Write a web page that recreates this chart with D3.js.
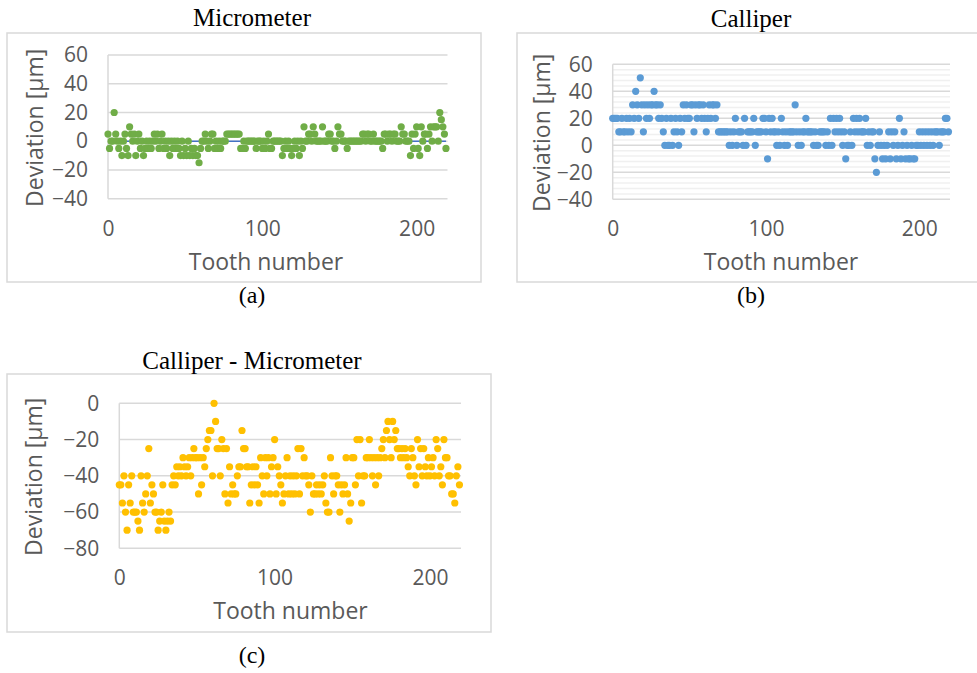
<!DOCTYPE html>
<html>
<head>
<meta charset="utf-8">
<script src="https://cdn.jsdelivr.net/npm/d3@7"></script>
<style>
  body { margin: 0; background: #fff; }
  svg { display: block; }
</style>
</head>
<body>
<div id="chart"></div>
<script>
// tooth numbers 0..219
const teeth = d3.range(220);

const micrometer = [
  5, -5, 0, 0, 20, 5, 0, -5, 0, -10, 0, 5, -5, -10, 10, 5, 0, 5, -10, 0,
  5, -5, 0, -10, -5, 0, -5, 0, -5, 0, 5, 0, 5, -5, 0, 5, -5, 0, -5, 0,
  -10, 0, -5, 0, -5, 0, -5, -10, 0, -10, -5, -10, 0, -10, -5, -10, -5, -10, -10, -15,
  -5, 0, 0, 5, 0, -5, 0, 5, 5, -5, 0, -5, 0, -5, 0, 0, 0, 5, 5, 5,
  5, 5, 5, 5, 5, 5, -5, -5, 0, -5, 0, 0, 0, 0, 0, 0, -5, 0, 0, 0,
  -5, 0, -5, 0, 5, -5, -5, 0, 0, 0, 0, 0, 0, -10, -5, 0, -5, 0, -5, -10,
  -5, 0, -5, 0, -10, 0, -5, 10, 0, 0, 5, 5, 0, 10, 5, 0, 0, 0, 0, 10,
  0, 0, 0, 5, 5, 0, 0, -5, 0, 10, 5, 5, 0, 0, 0, -5, 0, 0, 0, 0,
  0, 0, 0, 0, 0, 5, 5, 0, 5, 5, 0, 0, 5, 0, 0, 0, 0, 0, -5, 5,
  5, 0, 5, 5, 0, 5, 5, 0, 0, 0, 10, 5, 5, 0, 0, 0, -10, 5, -5, 5,
  10, -5, -10, 10, 0, 5, 5, -5, 5, 10, 0, 10, 10, 10, 0, 20, 15, 10, 5, -5
];

const calliper = [
  20, 20, 20, 20, 10, 10, 20, 10, 10, 20, 10, 20, 10, 30, 20, 40, 30, 20, 50, 30,
  10, 30, 20, 30, 20, 30, 30, 40, 30, 30, 20, 30, 20, 10, 0, 20, 0, 0, 20, 0,
  10, 20, 10, 0, 20, 10, 30, 20, 30, 20, 20, 30, 30, 10, 30, 20, 30, 30, 20, 30,
  20, 10, 20, 30, 20, 30, 30, 20, 30, 10, 10, 10, 10, 10, 10, 10, 0, 10, 0, 10,
  20, 0, 10, 10, 10, 0, 20, 0, 10, 10, 10, 10, 20, 0, 10, 10, 10, 10, 20, 20,
  10, -10, 20, 10, 20, 10, 10, 0, 10, 0, 20, 10, 0, 10, 0, 10, 10, 10, 10, 30,
  10, 0, 10, 0, 10, 10, 20, 10, 10, 10, 10, 0, 10, 0, 0, 10, 10, 10, 10, 0,
  10, 0, 20, 0, 20, 10, 20, 10, 20, 10, 0, 10, -10, 0, 0, 10, 0, 20, 10, 20,
  10, 20, 10, 10, 10, 20, 0, 10, 0, 10, 10, -10, -20, 0, 10, 0, -10, 0, -10, 0,
  10, -10, 10, 0, 10, -10, 0, 20, -10, 0, 10, -10, 0, -10, -10, 0, -10, -10, 0, 0,
  10, 0, 10, 0, 10, 0, 10, 0, 10, 0, 10, 10, 10, 0, 10, 10, 10, 20, 20, 10
];

const difference = [
  -45, -45, -55, -40, -60, -70, -45, -55, -40, -60, -60, -60, -65, -70, -40, -55, -60, -50, -40, -25,
  -55, -45, -50, -60, -60, -70, -65, -60, -45, -65, -70, -65, -60, -65, -45, -40, -45, -35, -40, -35,
  -40, -30, -35, -40, -35, -30, -40, -30, -25, -30, -30, -50, -30, -45, -30, -35, -25, -20, -15, -15,
  -40, 0, -10, -25, -25, -40, -20, -25, -50, -25, -55, -35, -50, -45, -50, -50, -40, -35, -35, -15,
  -25, -25, -35, -35, -55, -45, -35, -45, -35, -45, -55, -30, -40, -50, -30, -40, -30, -50, -35, -30,
  -20, -50, -35, -40, -45, -55, -50, -40, -30, -50, -40, -50, -40, -50, -40, -25, -50, -25, -40, -30,
  -40, -40, -45, -60, -40, -50, -50, -45, -50, -45, -50, -45, -40, -55, -60, -60, -30, -40, -50, -40,
  -40, -45, -60, -45, -50, -45, -30, -50, -65, -55, -30, -30, -45, -20, -40, -20, -55, -40, -40, -30,
  -30, -20, -30, -40, -30, -45, -30, -40, -30, -25, -20, -30, -15, -10, -20, -30, -10, -20, -15, -25,
  -25, -30, -25, -30, -25, -30, -35, -40, -25, -30, -40, -45, -20, -35, -25, -40, -25, -35, -40, -30,
  -40, -35, -30, -40, -20, -25, -40, -35, -45, -20, -30, -30, -40, -40, -50, -50, -55, -40, -35, -45
];

const xTicks = [0, 100, 200];
const yTicksAB = [60, 40, 20, 0, -20, -40];
const yTicksC = [0, -20, -40, -60, -80];

const width = 977;
const height = 673;
const gridColor = "#d9d9d9";
const minorColor = "#f0f0f0";
const textColor = "#595959";
const uiFont = "'Open Sans', 'DejaVu Sans', sans-serif";
const serifFont = "'Liberation Serif', 'Times New Roman', serif";

const svg = d3.select("#chart").append("svg").attr("width", width).attr("height", height);

const panels = [
  {
    title: "Micrometer", caption: "(a)", values: micrometer, color: "#70ad47",
    frame: [7, 33, 474, 249], plot: { left: 108, right: 447.5, top: 55, bottom: 198.7 },
    yDomain: [-40, 60], yTicks: yTicksAB, zeroLine: true, minor: false,
    titleX: 252, titleY: 26, captionY: 303, yLabelX: 42.5, xLabelX: 266, xLabelY: 270
  },
  {
    title: "Calliper", caption: "(b)", values: calliper, color: "#5b9bd5",
    frame: [517, 33, 470, 249], plot: { left: 612.7, right: 950, top: 64.3, bottom: 199.3 },
    yDomain: [-40, 60], yTicks: yTicksAB, zeroLine: false, minor: true,
    titleX: 751, titleY: 27, captionY: 303, yLabelX: 550, xLabelX: 781, xLabelY: 270
  },
  {
    title: "Calliper - Micrometer", caption: "(c)", values: difference, color: "#ffc000",
    frame: [7, 374, 484, 258], plot: { left: 119.3, right: 461, top: 403.3, bottom: 548.3 },
    yDomain: [-80, 0], yTicks: yTicksC, zeroLine: false, minor: false,
    titleX: 252, titleY: 369, captionY: 663, yLabelX: 41.5, xLabelX: 290.5, xLabelY: 619
  }
];

panels.forEach((p) => {
  const g = svg.append("g");
  const [fx, fy, fw, fh] = p.frame;
  const pl = p.plot;

  // chart frame
  g.append("rect")
    .attr("x", fx).attr("y", fy).attr("width", fw).attr("height", fh)
    .attr("fill", "#fff").attr("stroke", gridColor).attr("stroke-width", 1.5);

  const x = d3.scaleLinear().domain([0, 220]).range([pl.left, pl.right]);
  const y = d3.scaleLinear().domain(p.yDomain).range([pl.bottom, pl.top]);

  // minor gridlines (calliper chart only)
  if (p.minor) {
    const minorTicks = d3.range(p.yDomain[0], p.yDomain[1] + 1, 4).filter((v) => v % 20 !== 0);
    g.append("g").selectAll("line").data(minorTicks).join("line")
      .attr("x1", pl.left).attr("x2", pl.right)
      .attr("y1", (d) => y(d)).attr("y2", (d) => y(d))
      .attr("stroke", minorColor).attr("stroke-width", 1.5);
  }

  // major gridlines
  g.append("g").selectAll("line").data(p.yTicks).join("line")
    .attr("x1", pl.left).attr("x2", pl.right)
    .attr("y1", (d) => y(d)).attr("y2", (d) => y(d))
    .attr("stroke", gridColor).attr("stroke-width", 1.5);

  // vertical axis line
  g.append("line")
    .attr("x1", pl.left).attr("x2", pl.left)
    .attr("y1", pl.top).attr("y2", pl.bottom)
    .attr("stroke", gridColor).attr("stroke-width", 1.5);

  // y tick labels
  g.append("g")
    .attr("transform", `translate(${pl.left},0)`)
    .call(d3.axisLeft(y).tickValues(p.yTicks).tickSize(0).tickPadding(20))
    .call((a) => a.select(".domain").remove())
    .call((a) => a.selectAll("text")
      .attr("fill", textColor).style("font-family", uiFont).style("font-size", "21px"));

  // x tick labels
  g.append("g")
    .attr("transform", `translate(0,${pl.bottom})`)
    .call(d3.axisBottom(x).tickValues(xTicks).tickSize(0).tickPadding(22))
    .call((a) => a.select(".domain").remove())
    .call((a) => a.selectAll("text")
      .attr("fill", textColor).style("font-family", uiFont).style("font-size", "21px"));

  // zero reference line
  if (p.zeroLine) {
    g.append("path")
      .datum(teeth.map(() => 0))
      .attr("fill", "none").attr("stroke", "#4472c4").attr("stroke-width", 1.6)
      .attr("d", d3.line().x((d, i) => x(teeth[i])).y((d) => y(d)));
  }

  // points
  g.append("g").selectAll("circle").data(p.values).join("circle")
    .attr("cx", (d, i) => x(teeth[i]))
    .attr("cy", (d) => y(d))
    .attr("r", 3.6)
    .attr("fill", p.color);

  // axis titles
  g.append("text")
    .attr("transform", `translate(${p.yLabelX},${(pl.top + pl.bottom) / 2 + 1}) rotate(-90)`)
    .attr("text-anchor", "middle")
    .attr("fill", textColor).style("font-family", uiFont).style("font-size", "23px")
    .text("Deviation [µm]");

  g.append("text")
    .attr("x", p.xLabelX)
    .attr("y", p.xLabelY)
    .attr("text-anchor", "middle")
    .attr("fill", textColor).style("font-family", uiFont).style("font-size", "23px")
    .text("Tooth number");

  // chart title and caption
  g.append("text")
    .attr("x", p.titleX)
    .attr("y", p.titleY)
    .attr("text-anchor", "middle")
    .attr("fill", "#000").style("font-family", serifFont).style("font-size", "25px")
    .text(p.title);

  g.append("text")
    .attr("x", p.titleX)
    .attr("y", p.captionY)
    .attr("text-anchor", "middle")
    .attr("fill", "#000").style("font-family", serifFont).style("font-size", "24px")
    .text(p.caption);
});
</script>
</body>
</html>
